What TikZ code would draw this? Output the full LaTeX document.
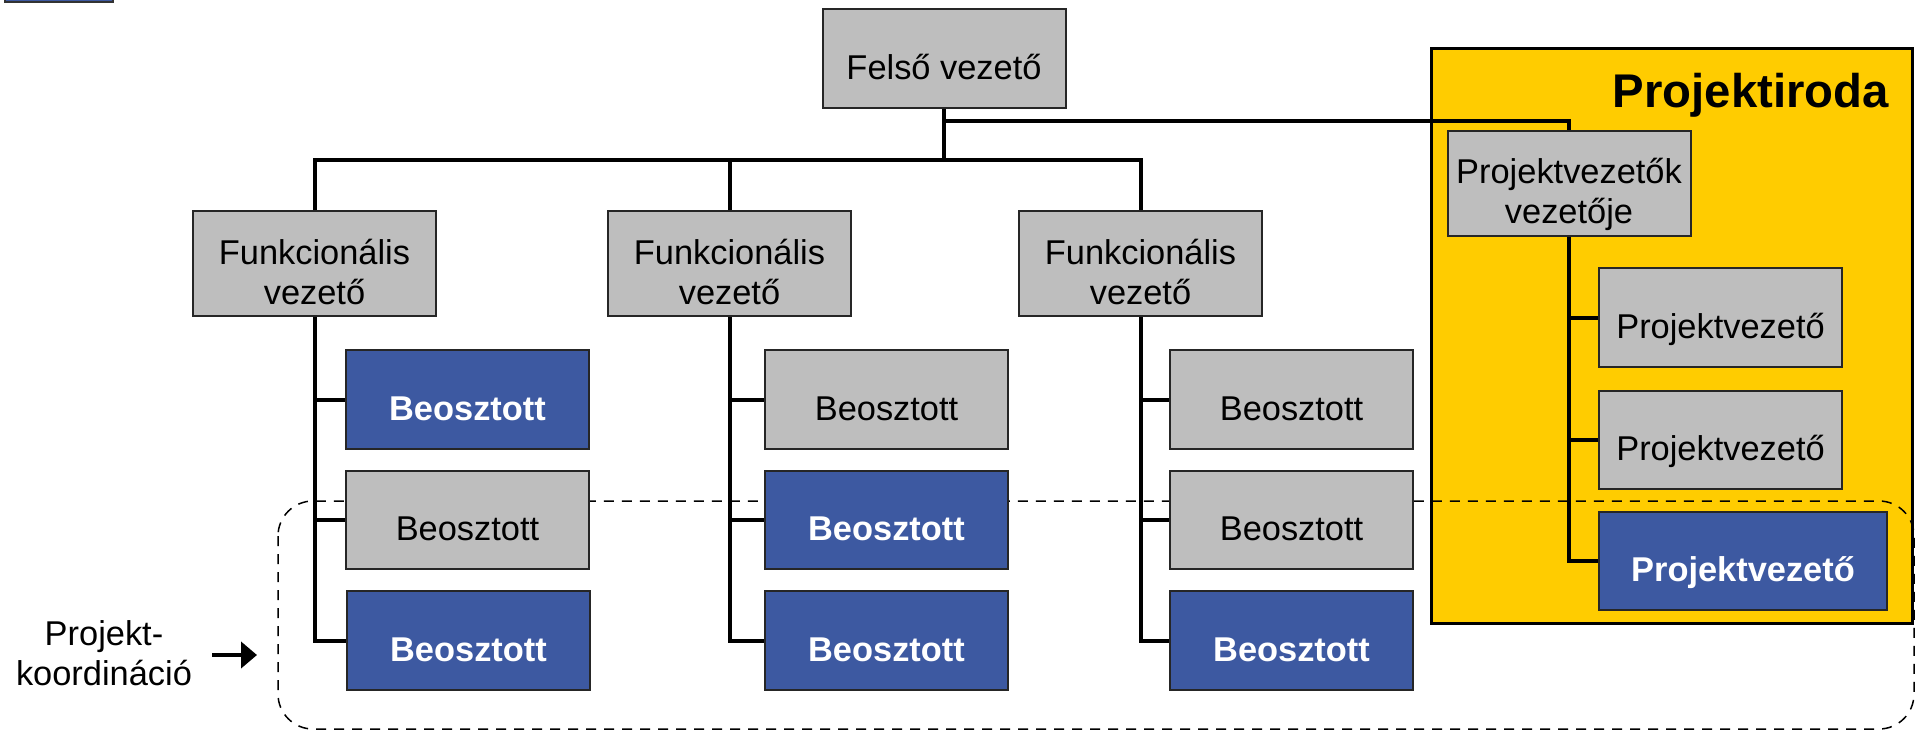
\documentclass[tikz,border=0pt]{standalone}
\usepackage{fontspec}
\setmainfont{Liberation Sans}
\usetikzlibrary{arrows.meta}
\definecolor{boxgray}{RGB}{190,190,190}
\definecolor{boxblue}{RGB}{61,89,161}
\definecolor{officeyellow}{RGB}{255,204,0}
% struts that fix the first baseline and the last depth of a box label
\newcommand\boxtop{\rule{0pt}{53pt}}
\newcommand\boxbot{\rule[-12pt]{0pt}{12pt}}

\begin{document}
\begin{tikzpicture}[x=1pt,y=-1pt,
  box/.style={draw=black!85, line width=2pt, minimum width=243pt, minimum height=98.5pt,
              inner sep=0pt, align=center, font=\fontsize{34.4}{40}\selectfont},
  gbox/.style={box, fill=boxgray, text=black},
  bbox/.style={box, fill=boxblue, text=white, font=\fontsize{34.4}{40}\selectfont\bfseries},
  conn/.style={line width=4pt, draw=black},
]
\useasboundingbox (0,0) rectangle (1919,731);

% edge of a box above the page
\draw[fill=boxblue, draw=black!80, line width=2pt] (5,-20) rectangle (113,2);

% project office area
\draw[fill=officeyellow, line width=3pt] (1431,48) rectangle (1912,623);

% project coordination frame
\draw[line width=1.5pt, dash pattern=on 10pt off 8pt, rounded corners=35pt]
  (278,501) rectangle (1914,729);

% top manager
\node[gbox] (fv) at (944,58.5) {\boxtop Felső vezető\boxbot};

% functional managers
\node[gbox] (f1) at (314.5,263.5) {\boxtop Funkcionális\\vezető\boxbot};
\node[gbox] (f2) at (729.5,263.5) {\boxtop Funkcionális\\vezető\boxbot};
\node[gbox] (f3) at (1140.5,263.5) {\boxtop Funkcionális\\vezető\boxbot};

% staff, column 1
\node[bbox] (b11) at (467.5,399.5) {\boxtop Beosztott\boxbot};
\node[gbox] (b12) at (467.5,520)   {\boxtop Beosztott\boxbot};
\node[bbox] (b13) at (468.5,640.5) {\boxtop Beosztott\boxbot};
% staff, column 2
\node[gbox] (b21) at (886.5,399.5) {\boxtop Beosztott\boxbot};
\node[bbox] (b22) at (886.5,520)   {\boxtop Beosztott\boxbot};
\node[bbox] (b23) at (886.5,640.5) {\boxtop Beosztott\boxbot};
% staff, column 3
\node[gbox] (b31) at (1291.5,399.5) {\boxtop Beosztott\boxbot};
\node[gbox] (b32) at (1291.5,520)   {\boxtop Beosztott\boxbot};
\node[bbox] (b33) at (1291.5,640.5) {\boxtop Beosztott\boxbot};

% project office
\node[anchor=base east, inner sep=0pt, font=\fontsize{47.3}{56}\selectfont\bfseries]
  (po) at (1889,107) {Projektiroda};
\node[gbox] (pvv) at (1569,183) {\boxtop Projektvezetők\\vezetője\boxbot};
\node[gbox] (p1) at (1720.5,317.5) {\boxtop Projektvezető\boxbot};
\node[gbox] (p2) at (1720.5,440)   {\boxtop Projektvezető\boxbot};
\node[bbox, minimum width=288pt] (p3) at (1743,561) {\boxtop Projektvezető\boxbot};

% connectors
\coordinate (bar) at (944,160);
\coordinate (pbr) at (944,121);
\draw[conn] (fv.south) -- (bar);
\draw[conn] (f1.north) |- (bar) -| (f3.north);
\draw[conn] (f2.north) -- (f2.north |- bar);
\draw[conn] (pbr) -| (pvv.north);

\draw[conn] (f1.south) |- (b13.west);
\draw[conn] (f1.south |- b11.west) -- (b11.west);
\draw[conn] (f1.south |- b12.west) -- (b12.west);

\draw[conn] (f2.south) |- (b23.west);
\draw[conn] (f2.south |- b21.west) -- (b21.west);
\draw[conn] (f2.south |- b22.west) -- (b22.west);

\draw[conn] (f3.south) |- (b33.west);
\draw[conn] (f3.south |- b31.west) -- (b31.west);
\draw[conn] (f3.south |- b32.west) -- (b32.west);

\draw[conn] (pvv.south) |- (p3.west);
\draw[conn] (pvv.south |- p1.west) -- (p1.west);
\draw[conn] (pvv.south |- p2.west) -- (p2.west);

% project coordination label and pointer
\node[align=center, inner sep=0pt, font=\fontsize{34.4}{40}\selectfont]
  (pk) at (104,644.5) {\boxtop Projekt-\\koordináció\boxbot};
\coordinate (ka) at (212,655);
\coordinate (kb) at (257,655);
\draw[line width=4pt, -{Triangle[length=16pt,width=26pt]}] (ka) -- (kb);
\end{tikzpicture}
\end{document}
